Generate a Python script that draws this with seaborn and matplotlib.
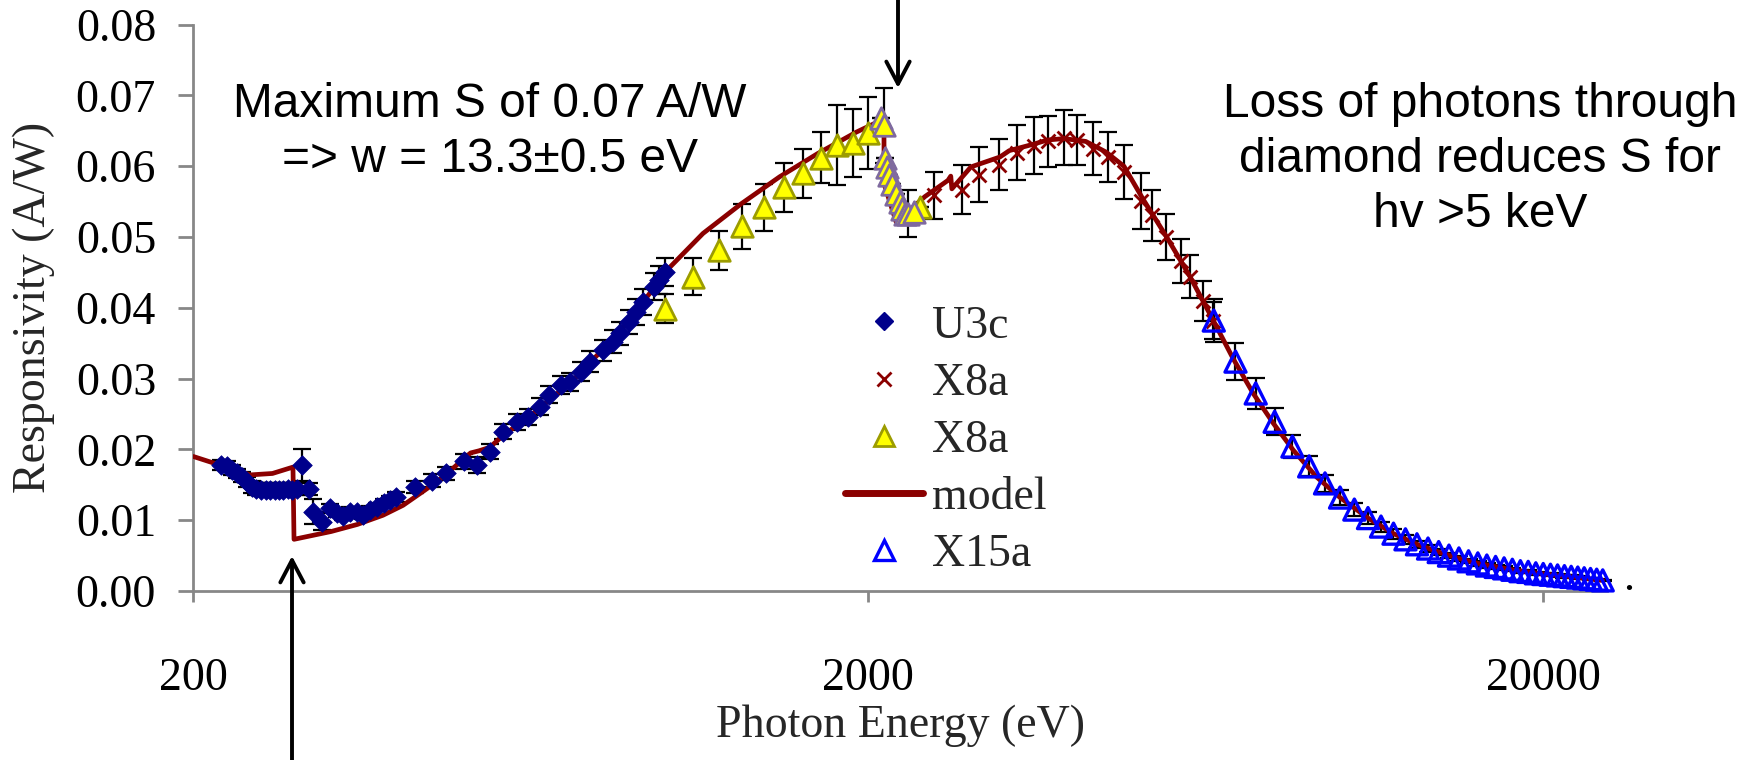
import matplotlib
matplotlib.use("Agg")
import matplotlib.pyplot as plt
from matplotlib.lines import Line2D
from matplotlib.ticker import NullLocator, FixedLocator, FixedFormatter
import seaborn as sns

# ---------------- data ----------------
u3c_energy = [220, 224, 228, 232, 236, 240, 244, 248, 252, 256, 260, 264, 268, 272, 276,
              280, 285, 290, 297, 301, 310, 319, 326, 333, 341, 349, 357, 365, 374, 383,
              391, 400, 426, 451, 474, 503, 526, 550, 576, 603, 627, 652, 674, 701, 724,
              750, 774, 810, 836, 857, 885, 906, 928, 962, 980, 999]
u3c_resp = [0.0178, 0.0176, 0.0171, 0.0166, 0.0161, 0.0154, 0.0147, 0.0144, 0.0143, 0.0143,
            0.0143, 0.0142, 0.0143, 0.0143, 0.0144, 0.0143, 0.0144, 0.0178, 0.0144, 0.0112,
            0.0098, 0.0117, 0.0110, 0.0106, 0.0112, 0.0112, 0.0107, 0.0114, 0.0119, 0.0124,
            0.0128, 0.0133, 0.0147, 0.0156, 0.0166, 0.0183, 0.0178, 0.0197, 0.0225, 0.0239,
            0.0246, 0.0260, 0.0277, 0.0291, 0.0295, 0.0310, 0.0324, 0.0340, 0.0352, 0.0364,
            0.0380, 0.0394, 0.0408, 0.0430, 0.0439, 0.0451]
u3c_err = [0.0007, 0.0007, 0.0007, 0.0007, 0.0007, 0.0007, 0.0008, 0.0009, 0.0009, 0.0009,
           0.0009, 0.0009, 0.0009, 0.0009, 0.0009, 0.0009, 0.0009, 0.0023, 0.0009, 0.0018,
           0.0012, 0.0006, 0.0006, 0.0006, 0.0006, 0.0006, 0.0006, 0.0006, 0.0006, 0.0006,
           0.0006, 0.0007, 0.0009, 0.0009, 0.0009, 0.0010, 0.0011, 0.0010, 0.0011, 0.0011,
           0.0011, 0.0012, 0.0012, 0.0013, 0.0013, 0.0014, 0.0015, 0.0015, 0.0016, 0.0016,
           0.0017, 0.0018, 0.0018, 0.0019, 0.0020, 0.0020]

x8a_energy = [2500, 2750, 2920, 3120, 3320, 3520, 3690, 3900, 4080, 4300, 4530, 4780,
              5070, 5270, 5530, 5820, 5990, 6260, 6490]
x8a_resp = [0.0559, 0.0567, 0.0588, 0.0602, 0.0619, 0.0629, 0.0635, 0.0640, 0.0637, 0.0625,
            0.0613, 0.0592, 0.0551, 0.0531, 0.0500, 0.0466, 0.0444, 0.0410, 0.0382]
x8a_err = [0.0033, 0.0034, 0.0039, 0.0036, 0.0039, 0.0040, 0.0036, 0.0039, 0.0035, 0.0038,
           0.0035, 0.0038, 0.0039, 0.0036, 0.0033, 0.0031, 0.0030, 0.0028, 0.0026]

x8b_energy = [1000, 1100, 1200, 1300, 1400, 1500, 1600, 1700, 1800, 1900, 2000, 2390]
x8b_resp = [0.0399, 0.0444, 0.0481, 0.0515, 0.0542, 0.0570, 0.0590, 0.0612, 0.0630, 0.0633,
            0.0647, 0.0542]
x8b_err = [0.0021, 0.0026, 0.0028, 0.0032, 0.0033, 0.0034, 0.0035, 0.0036, 0.0057, 0.0048,
           0.0051, 0.0000]

edge_energy = [2090, 2110, 2120, 2135, 2150, 2170, 2200, 2225, 2245, 2270, 2290, 2340]
edge_resp = [0.0668, 0.0658, 0.0611, 0.0599, 0.0587, 0.0575, 0.0561, 0.0550, 0.0540, 0.0533,
             0.0533, 0.0535]
edge_err = [0.0000, 0.0053, 0.0000, 0.0000, 0.0000, 0.0000, 0.0000, 0.0000, 0.0000, 0.0000,
            0.0033, 0.0000]

model_energy = [200, 243, 262, 281, 282, 320, 350, 382, 409, 440, 469, 494, 515, 530, 550,
                576, 642, 731, 810, 885, 962, 999, 1138, 1297, 1478, 1684, 1919, 2060, 2090,
                2110, 2111, 2200, 2426, 2625, 2650, 2660, 2839, 3134, 3236, 3511, 3686, 3900,
                4200, 4500, 4784, 5110, 5535, 5994, 6490, 6946, 7437, 7962, 8524, 9231, 10000,
                11000, 12000, 13000, 14000, 15000, 16000, 18000, 20000, 22000, 24500]
model_resp = [0.0190, 0.0164, 0.0166, 0.0175, 0.0073, 0.0084, 0.0094, 0.0107, 0.0121, 0.0142,
              0.0161, 0.0180, 0.0195, 0.0198, 0.0203, 0.0220, 0.0253, 0.0298, 0.0342, 0.0382,
              0.0428, 0.0450, 0.0505, 0.0547, 0.0585, 0.0618, 0.0648, 0.0662, 0.0668, 0.0660,
              0.0575, 0.0521, 0.0557, 0.0580, 0.0586, 0.0568, 0.0599, 0.0613, 0.0622, 0.0631,
              0.0637, 0.0639, 0.0635, 0.0620, 0.0600, 0.0553, 0.0500, 0.0444, 0.0382, 0.0328,
              0.0279, 0.0237, 0.0199, 0.0161, 0.0132, 0.0103, 0.0081, 0.0066, 0.0055, 0.0046,
              0.0039, 0.0030, 0.0024, 0.0020, 0.0015]

x15a_energy = [6500, 7000, 7500, 8000, 8500, 9000, 9500, 10000, 10500, 11000, 11500, 12000,
               12500, 13000, 13500, 14000, 14500, 15000, 15500, 16000, 16500, 17000, 17500,
               18000, 18500, 19000, 19500, 20000, 20500, 21000, 21500, 22000, 22500, 23000,
               23500, 24000, 24500]
x15a_resp = [0.0382, 0.0324, 0.0279, 0.0239, 0.0204, 0.0176, 0.0152, 0.0132, 0.0115, 0.0103,
             0.0091, 0.0081, 0.0073, 0.0066, 0.0060, 0.0055, 0.0050, 0.0046, 0.0042, 0.0039,
             0.0036, 0.0034, 0.0032, 0.0030, 0.0028, 0.0027, 0.0025, 0.0024, 0.0023, 0.0022,
             0.0021, 0.0020, 0.0019, 0.0018, 0.0017, 0.0016, 0.0015]
x15a_err = [0.0030, 0.0026, 0.0022, 0.0019, 0.0016, 0.0014, 0.0012, 0.0011, 0.0009, 0.0008,
            0.0007, 0.0007, 0.0006, 0.0005, 0.0005, 0.0004, 0.0004, 0.0004, 0.0003, 0.0003,
            0.0003, 0.0003, 0.0003, 0.0002, 0.0002, 0.0002, 0.0002, 0.0002, 0.0002, 0.0002,
            0.0002, 0.0002, 0.0002, 0.0001, 0.0001, 0.0001, 0.0001]

x_tick_values = [200, 2000, 20000]
x_tick_labels = ["200", "2000", "20000"]
y_tick_values = [0.00, 0.01, 0.02, 0.03, 0.04, 0.05, 0.06, 0.07, 0.08]
y_tick_labels = ["0.00", "0.01", "0.02", "0.03", "0.04", "0.05", "0.06", "0.07", "0.08"]
legend_labels = ["U3c", "X8a", "X8a", "model", "X15a"]

# ---------------- style ----------------
sns.set_theme(style="white")
plt.rcParams["font.family"] = ["Liberation Serif", "DejaVu Serif"]

NAVY = "#00008B"
DARKRED = "#8B0000"
YELLOW = "#FFFF00"
OLIVE = "#9C9C00"
PURPLE = "#7F6A9F"
BLUE = "#0000FF"
GRAY = "#878787"

W, H = 1754, 760
fig = plt.figure(figsize=(W / 100, H / 100), dpi=100)
ax_l, ax_r, ax_t, ax_b = 193.3, 1607, 24.6, 591
ax = fig.add_axes([ax_l / W, 1 - ax_b / H, (ax_r - ax_l) / W, (ax_b - ax_t) / H])

ax.set_xscale("log")
ax.set_xlim(200, 24860)
ax.set_ylim(0, 0.08)

eb_kw = dict(fmt="none", ecolor="black", elinewidth=1.6, capsize=6.5, capthick=1.6, zorder=2,
             clip_on=False)
ax.errorbar(u3c_energy, u3c_resp, yerr=u3c_err, **eb_kw)
ax.errorbar(x8a_energy, x8a_resp, yerr=x8a_err, **eb_kw)
ax.errorbar(x8b_energy, x8b_resp, yerr=x8b_err, **eb_kw)
ax.errorbar(edge_energy, edge_resp, yerr=edge_err, **eb_kw)
ax.errorbar(x15a_energy, x15a_resp, yerr=x15a_err, **eb_kw)

sns.lineplot(x=model_energy, y=model_resp, ax=ax, color=DARKRED, lw=3.4, sort=False,
             estimator=None, zorder=3, legend=False)

sns.scatterplot(x=u3c_energy, y=u3c_resp, ax=ax, marker="D", s=100, color=NAVY,
                edgecolor=NAVY, linewidth=0.5, zorder=4, legend=False, clip_on=False)
sns.scatterplot(x=x8a_energy, y=x8a_resp, ax=ax, marker="x", s=100, color=DARKRED,
                linewidth=2.0, zorder=4, legend=False, clip_on=False)
sns.scatterplot(x=x8b_energy, y=x8b_resp, ax=ax, marker="^", s=240, facecolor=YELLOW,
                edgecolor=OLIVE, linewidth=2.0, zorder=4, legend=False, clip_on=False)
sns.scatterplot(x=edge_energy, y=edge_resp, ax=ax, marker="^", s=240, facecolor=YELLOW,
                edgecolor=PURPLE, linewidth=2.0, zorder=4, legend=False, clip_on=False)
sns.scatterplot(x=x15a_energy, y=x15a_resp, ax=ax, marker="^", s=230, facecolor="none",
                edgecolor=BLUE, linewidth=2.4, zorder=5, legend=False, clip_on=False)

# axes styling
for side in ["top", "right"]:
    ax.spines[side].set_visible(False)
for side in ["left", "bottom"]:
    ax.spines[side].set_color(GRAY)
    ax.spines[side].set_linewidth(2.0)
ax.xaxis.set_major_locator(FixedLocator(x_tick_values))
ax.xaxis.set_major_formatter(FixedFormatter(x_tick_labels))
ax.xaxis.set_minor_locator(NullLocator())
ax.yaxis.set_major_locator(FixedLocator(y_tick_values))
ax.yaxis.set_major_formatter(FixedFormatter(y_tick_labels))
ax.tick_params(axis="y", direction="out", length=10.8, width=2, color=GRAY, pad=16,
               labelsize=33, labelcolor="black", left=True)
ax.tick_params(axis="x", direction="out", length=8, width=2, color=GRAY, pad=40,
               labelsize=33, labelcolor="black", bottom=True)
ax.grid(False)

ax.set_xlabel("Photon Energy (eV)", fontsize=33)
ax.set_ylabel("Responsivity (A/W)", fontsize=33)
ax.xaxis.set_label_coords(0.5, -0.20)
ax.yaxis.set_label_coords(-0.098, 0.5)

# legend
handles = [
    Line2D([], [], ls="none", marker="D", ms=9.5, color=NAVY),
    Line2D([], [], ls="none", marker="x", ms=10, mew=2.0, color=DARKRED),
    Line2D([], [], ls="none", marker="^", ms=15, mfc=YELLOW, mec=OLIVE, mew=2.0),
    Line2D([], [], ls="-", lw=5, color=DARKRED, solid_capstyle="round"),
    Line2D([], [], ls="none", marker="^", ms=15, mfc="none", mec=BLUE, mew=2.4),
]
leg = ax.legend(handles, legend_labels, loc="upper left",
                bbox_to_anchor=(845 / W, 1 - 305 / H), bbox_transform=fig.transFigure,
                frameon=False, fontsize=33, handlelength=1.7, handletextpad=0.2,
                labelspacing=0.32, borderpad=0, borderaxespad=0, numpoints=1)

# annotations (Arial-like)
sans = ["Liberation Sans", "DejaVu Sans"]
for txt, cx, base in [("Maximum S of 0.07 A/W", 490, 117),
                      ("=> w = 13.3\u00b10.5 eV", 490, 172),
                      ("Loss of photons through", 1480, 117),
                      ("diamond reduces S for", 1480, 172),
                      ("hv >5 keV", 1480, 227)]:
    fig.text(cx / W, 1 - base / H, txt, family=sans, fontsize=34.5, ha="center",
             va="baseline", color="black")

# arrows
arrow_kw = dict(arrowstyle="->,head_length=0.8,head_width=0.42", lw=2.8, color="black",
                mutation_scale=20, shrinkA=0, shrinkB=0)
ax.annotate("", xy=(898 / W, 1 - 88 / H), xycoords="figure fraction",
            xytext=(898 / W, 1.0), textcoords="figure fraction",
            arrowprops=arrow_kw, annotation_clip=False)
ax.annotate("", xy=(292 / W, 1 - 556 / H), xycoords="figure fraction",
            xytext=(292 / W, 0.0), textcoords="figure fraction",
            arrowprops=arrow_kw, annotation_clip=False)

fig.text(1629 / W, 1 - 590 / H, ".", fontsize=32, ha="center", va="baseline", color="black")

fig.savefig("out.png", dpi=100)
